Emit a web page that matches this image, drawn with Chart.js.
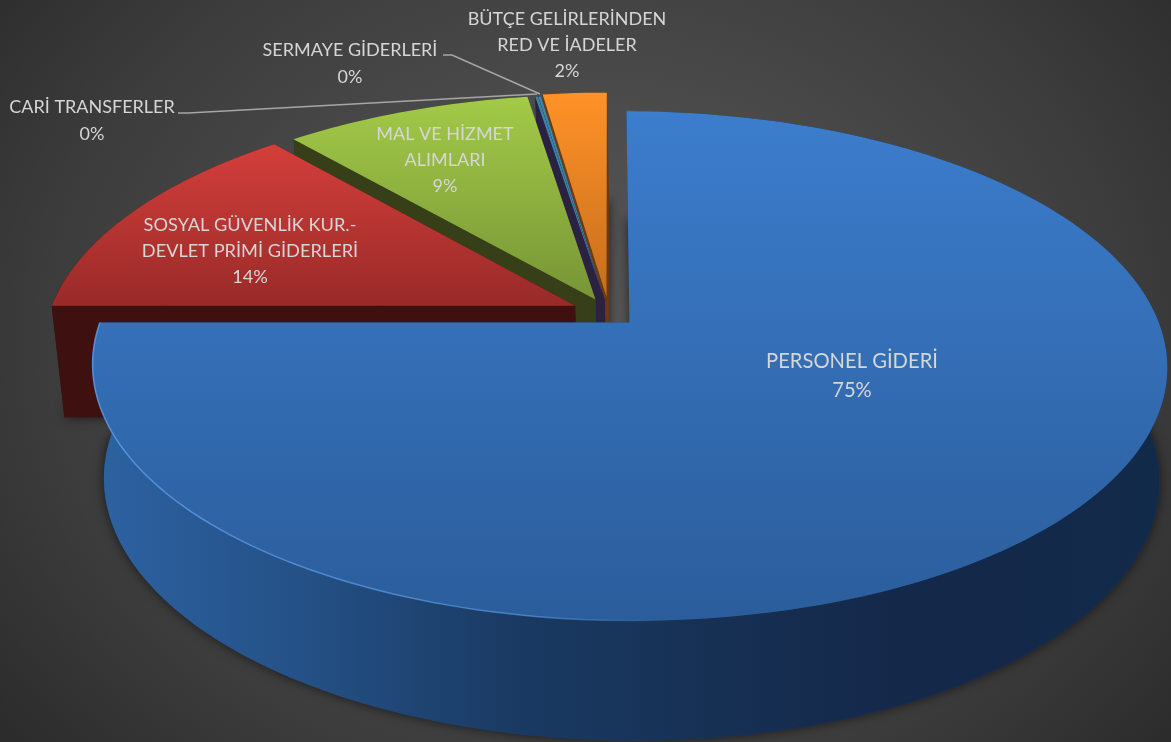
<!DOCTYPE html>
<html>
<head>
<meta charset="utf-8">
<style>
    html, body { margin: 0; height: 100%; overflow: hidden; }
    body { background: radial-gradient(ellipse 780px 640px at 590px 340px, #585858 0%, #4c4c4c 35%, #3c3c3c 70%, #2a2a2a 100%); }
    #wrap { width: 1171px; height: 742px; }
</style>
<script src="https://cdn.jsdelivr.net/npm/chart.js@4"></script>
</head>
<body>
<div id="wrap"><canvas id="chartGider"></canvas></div>
<script>
const categories = ['PERSONEL GİDERİ', 'SOSYAL GÜVENLİK KUR.-DEVLET PRİMİ GİDERLERİ', 'MAL VE HİZMET ALIMLARI', 'CARİ TRANSFERLER', 'SERMAYE GİDERLERİ', 'BÜTÇE GELİRLERİNDEN RED VE İADELER'];
const values = [75, 13.6, 8.9, 0.1, 0.1, 2.3];

const topColors = [['#3c7dcd', '#2b5d9b'], ['#d43f3b', '#982a28'], ['#a3ca48', '#779536'], ['#3a86a8', '#3a86a8'], ['#3a86a8', '#3a86a8'], ['#ff9228', '#c66e1c']];
const wallColors = ['#1b3d68', '#3f1010', '#363f17', '#2b2141', '#2b2141', '#6b3a10'];
const explode = [19.5, 25.5, 22, 20, 20, 24];

// posisi teks label, urut sama dengan categories
const labelLayout = [
    { x: 852, y: 361, size: 20.2, gap: 29, lines: ['PERSONEL GİDERİ'] },
    { x: 250, y: 225, size: 18.2, gap: 26, lines: ['SOSYAL GÜVENLİK KUR.-', 'DEVLET PRİMİ GİDERLERİ'] },
    { x: 445, y: 134, size: 18, gap: 26, lines: ['MAL VE HİZMET', 'ALIMLARI'] },
    { x: 92, y: 107, size: 18, gap: 27, lines: ['CARİ TRANSFERLER'] },
    { x: 350, y: 50, size: 18, gap: 27, lines: ['SERMAYE GİDERLERİ'] },
    { x: 567, y: 19, size: 18, gap: 26, lines: ['BÜTÇE GELİRLERİNDEN', 'RED VE İADELER'] }
];

// proyeksi perspektif bidang pie ke layar: atas dan bawah
const topPlane = { x0: 609, a: 526, y0: 313, b: 244, w: 0.17 };
const bottomPlane = { x0: 611, a: 516, y0: 424.5, b: 249, w: 0.175 };

function project(plane, x, y) {
    const d = 1 + plane.w * y;
    return [plane.x0 + plane.a * x / d, plane.y0 - plane.b * y / d];
}

// titik-titik irisan dari sudut elemen Chart.js, satuan radius = 1
function slicePoints(el) {
    const e = el.options.offset / el.outerRadius;
    const mid = (el.startAngle + el.endAngle) / 2;
    const cx = Math.cos(mid) * e;
    const cy = -Math.sin(mid) * e;
    const rim = [];
    const steps = Math.max(2, Math.ceil((el.endAngle - el.startAngle) * 40));
    for (let i = 0; i <= steps; i++) {
        const a = el.startAngle + (el.endAngle - el.startAngle) * i / steps;
        rim.push([cx + Math.cos(a), cy - Math.sin(a)]);
    }
    return { apex: [cx, cy], rim: rim };
}

function tracePoly(ctx, pts) {
    ctx.beginPath();
    pts.forEach((p, i) => i ? ctx.lineTo(p[0], p[1]) : ctx.moveTo(p[0], p[1]));
    ctx.closePath();
}

const pie3d = {
    id: 'pie3d',
    beforeDatasetsDraw(chart) {
        const ctx = chart.ctx;
        const arcs = chart.getDatasetMeta(0).data;
        // gambar dari belakang ke depan
        for (let i = arcs.length - 1; i >= 0; i--) {
            const s = slicePoints(arcs[i]);
            const up = p => project(topPlane, p[0], p[1]);
            const down = p => project(bottomPlane, p[0], p[1]);
            const topPts = [s.apex].concat(s.rim).map(up);
            const bottomPts = [s.apex].concat(s.rim).map(down);

            ctx.save();
            ctx.shadowColor = 'rgba(0,0,0,0.6)';
            ctx.shadowBlur = 12;
            tracePoly(ctx, bottomPts);
            ctx.fillStyle = wallColors[i];
            ctx.fill();
            ctx.restore();

            const first = s.rim[0];
            const last = s.rim[s.rim.length - 1];
            ctx.fillStyle = wallColors[i];
            tracePoly(ctx, [up(s.apex), up(first), down(first), down(s.apex)]);
            ctx.fill();
            tracePoly(ctx, [up(s.apex), up(last), down(last), down(s.apex)]);
            ctx.fill();

            // dinding luar
            const wallPts = s.rim.map(up).concat(s.rim.slice().reverse().map(down));
            if (i === 0) {
                const g = ctx.createLinearGradient(95, 0, 1165, 0);
                g.addColorStop(0, '#2d62a2');
                g.addColorStop(0.2, '#245085');
                g.addColorStop(0.39, '#1a3a63');
                g.addColorStop(0.6, '#162f52');
                g.addColorStop(0.75, '#14284a');
                g.addColorStop(1, '#122a4a');
                ctx.fillStyle = g;
            }
            tracePoly(ctx, wallPts);
            ctx.fill();

            // permukaan atas
            const ys = topPts.map(p => p[1]);
            const grad = ctx.createLinearGradient(0, Math.min(...ys), 0, Math.max(...ys));
            grad.addColorStop(0, topColors[i][0]);
            grad.addColorStop(1, topColors[i][1]);
            ctx.fillStyle = grad;
            tracePoly(ctx, topPts);
            ctx.fill();
            if (i === 0) {
                // kilap tepi, hanya sisi kiri
                const shine = ctx.createLinearGradient(90, 0, 680, 0);
                shine.addColorStop(0, 'rgba(95,160,235,0.8)');
                shine.addColorStop(0.75, 'rgba(95,160,235,0.6)');
                shine.addColorStop(1, 'rgba(95,160,235,0)');
                ctx.beginPath();
                s.rim.map(up).forEach((p, k) => k ? ctx.lineTo(p[0], p[1]) : ctx.moveTo(p[0], p[1]));
                ctx.strokeStyle = shine;
                ctx.lineWidth = 1.5;
                ctx.stroke();
            }
        }
        return false;
    },
    afterDraw(chart) {
        const ctx = chart.ctx;
        const total = values.reduce((sum, v) => sum + v, 0);

        // garis penunjuk label kecil
        ctx.save();
        ctx.strokeStyle = '#a6a6a6';
        ctx.lineWidth = 1.6;
        ctx.beginPath();
        ctx.moveTo(178, 113);
        ctx.lineTo(188, 113);
        ctx.lineTo(537, 94);
        ctx.moveTo(443, 55);
        ctx.lineTo(452, 55);
        ctx.lineTo(540, 94);
        ctx.stroke();

        ctx.textAlign = 'center';
        ctx.textBaseline = 'middle';
        ctx.fillStyle = '#d6d6d6';
        labelLayout.forEach((item, i) => {
            ctx.font = item.size + 'px Lato, sans-serif';
            const rows = item.lines.concat(Math.round(values[i] / total * 100) + '%');
            rows.forEach((row, r) => ctx.fillText(row, item.x, item.y + r * item.gap));
        });
        ctx.restore();
    }
};

new Chart(document.getElementById('chartGider'), {
    type: 'pie',
    data: {
        labels: categories,
        datasets: [{
            data: values,
            offset: explode,
            borderWidth: 0
        }]
    },
    options: {
        responsive: true,
        maintainAspectRatio: false,
        animation: false,
        plugins: {
            legend: { display: false },
            tooltip: { enabled: false }
        }
    },
    plugins: [pie3d]
});
</script>
</body>
</html>
